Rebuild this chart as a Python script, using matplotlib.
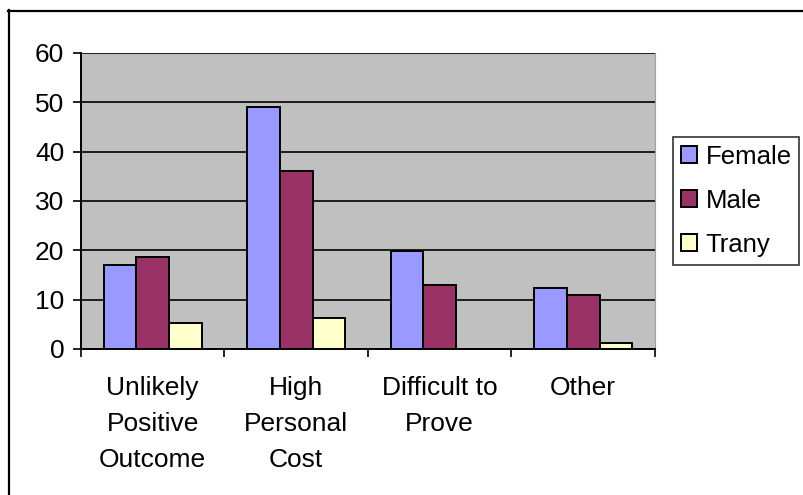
import numpy as np
import matplotlib
matplotlib.use("Agg")
import matplotlib.pyplot as plt
from matplotlib.lines import Line2D

plt.rcParams['font.family'] = ['Liberation Sans', 'DejaVu Sans']

# Datos del gráfico
categorias = ["Unlikely\nPositive\nOutcome", "High\nPersonal\nCost", "Difficult to\nProve", "Other"]
female = [17.0, 49.1, 19.9, 12.3]
male = [18.7, 36.1, 13.0, 11.0]
trany = [5.3, 6.2, 0.0, 1.3]
series = ["Female", "Male", "Trany"]
colores = ["#9999FF", "#993366", "#FFFFCC"]
yticks = [0, 10, 20, 30, 40, 50, 60]

fig = plt.figure(figsize=(8.04, 4.95), dpi=100)
ax = fig.add_axes([81 / 804, 1 - 349 / 495, 574 / 804, 296 / 495])
ax.set_facecolor("#C0C0C0")

x = np.arange(len(categorias))
ancho = 0.228
for i, (vals, nombre, color) in enumerate(zip([female, male, trany], series, colores)):
    ax.bar(x + (i - 1) * ancho, vals, ancho, color=color, edgecolor="black",
           linewidth=1.4, label=nombre, zorder=3)

ax.set_xlim(-0.5, len(categorias) - 0.5)
ax.set_ylim(0, 60)
ax.set_yticks(yticks)
ax.yaxis.grid(True, color="black", linewidth=1.2, zorder=1)
ax.set_axisbelow(True)

# etiquetas centradas, marcas entre categorías
ax.set_xticks(x)
ax.set_xticklabels(categorias, fontsize=19, linespacing=1.62, va="top")
ax.tick_params(axis="x", which="major", length=0, pad=19.5)
ax.set_xticks(np.arange(-0.5, len(categorias)), minor=True)
ax.tick_params(axis="x", which="minor", length=6, width=1.2, direction="out")
ax.tick_params(axis="y", length=6, width=1.2, labelsize=19, pad=6)

for lado in ["top", "right"]:
    ax.spines[lado].set_visible(False)
ax.spines["right"].set_visible(True)
ax.spines["right"].set_color("#A0A0A0")
ax.spines["right"].set_linewidth(0.8)
ax.spines["left"].set_linewidth(1.4)
ax.spines["bottom"].set_linewidth(1.4)

leg = ax.legend(loc="upper left", bbox_to_anchor=(673 / 804, 1 - 137 / 495),
                bbox_transform=fig.transFigure, fontsize=18.5, frameon=True,
                fancybox=False, edgecolor="black", handlelength=0.62,
                handleheight=0.62, handletextpad=0.35, labelspacing=0.78,
                borderpad=0.3, borderaxespad=0)
leg.get_frame().set_linewidth(1.2)

# marco exterior del gráfico
fig.add_artist(Line2D([8 / 804, 1.0], [1 - 10.5 / 495] * 2, color="black", linewidth=1.6,
                      transform=fig.transFigure))
fig.add_artist(Line2D([8.5 / 804] * 2, [1 - 10 / 495, 0], color="black", linewidth=1.6,
                      transform=fig.transFigure))

fig.savefig("out.png", dpi=100)
